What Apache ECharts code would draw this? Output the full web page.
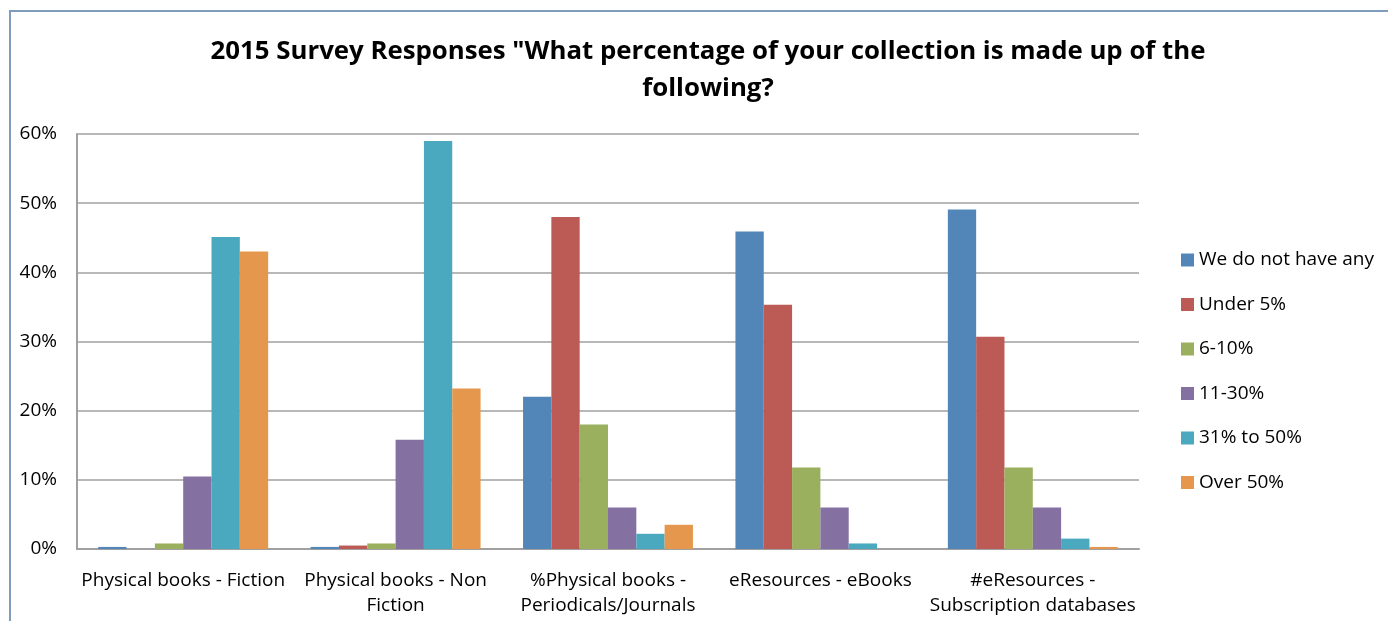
<!DOCTYPE html>
<html>
<head>
<meta charset="utf-8">
<script src="https://cdn.jsdelivr.net/npm/echarts@6/dist/echarts.min.js"></script>
<style>
html,body{margin:0;padding:0;background:#fff;}
#c{width:1388px;height:621px;}
</style>
</head>
<body>
<div id="c"></div>
<script>
const categories = ["Physical books - Fiction", "Physical books - Non\nFiction", "%Physical books -\nPeriodicals/Journals", "eResources - eBooks", "#eResources -\nSubscription databases"];
const seriesNames = ["We do not have any", "Under 5%", "6-10%", "11-30%", "31% to 50%", "Over 50%"];
const noneValues = [0.3, 0.3, 22.0, 45.9, 49.1];
const under5Values = [0, 0.5, 48.0, 35.3, 30.7];
const v6to10Values = [0.8, 0.8, 18.0, 11.8, 11.8];
const v11to30Values = [10.5, 15.8, 6.0, 6.0, 6.0];
const v31to50Values = [45.1, 59.0, 2.2, 0.8, 1.5];
const over50Values = [43.0, 23.2, 3.5, 0, 0.3];
const yTicks = [0, 10, 20, 30, 40, 50, 60];

const colors = ["#5386B8", "#BC5A55", "#9BB05E", "#8570A2", "#4AA8BF", "#E5984D"];
const allValues = [noneValues, under5Values, v6to10Values, v11to30Values, v31to50Values, over50Values];
const FONT = "'Open Sans', Lato, sans-serif";

const chart = echarts.init(document.getElementById('c'));
chart.setOption({
  animation: false,
  backgroundColor: '#fff',
  color: colors,
  graphic: [{
    type: 'rect',
    shape: {x: 10, y: 11, width: 1500, height: 800},
    style: {fill: 'none', stroke: '#7F9DBA', lineWidth: 2},
    silent: true
  }],
  title: {
    text: '2015 Survey Responses "What percentage of your collection is made up of the\nfollowing?',
    left: 703, top: 28, textAlign: 'center',
    textStyle: {fontFamily: FONT, fontSize: 25.8, fontWeight: 'bold', color: '#000', lineHeight: 37}
  },
  legend: {
    orient: 'vertical', left: 1176, top: 245,
    itemWidth: 13, itemHeight: 13, itemGap: 24.5,
    icon: 'rect',
    textStyle: {fontFamily: FONT, fontSize: 19, color: '#000', lineHeight: 20},
    data: seriesNames
  },
  grid: {left: 77, right: 249, top: 134, bottom: 72},
  xAxis: {
    type: 'category',
    data: categories,
    axisLine: {lineStyle: {color: '#A0A0A0', width: 2}},
    axisTick: {show: false},
    axisLabel: {fontFamily: FONT, fontSize: 19, color: '#000', lineHeight: 25, margin: 19, interval: 0}
  },
  yAxis: {
    type: 'value', min: 0, max: 60, interval: 10,
    axisLine: {show: true, lineStyle: {color: '#A0A0A0', width: 2}},
    axisTick: {show: false},
    splitLine: {lineStyle: {color: '#A0A0A0', width: 1.5}},
    axisLabel: {fontFamily: FONT, fontSize: 19, color: '#000', margin: 20, formatter: v => yTicks.includes(v) ? v + '%' : ''}
  },
  series: seriesNames.map((n, i) => ({
    name: n, type: 'bar', data: allValues[i],
    barGap: '0%', barCategoryGap: '20%',
    itemStyle: {color: colors[i]}
  }))
});
</script>
</body>
</html>
